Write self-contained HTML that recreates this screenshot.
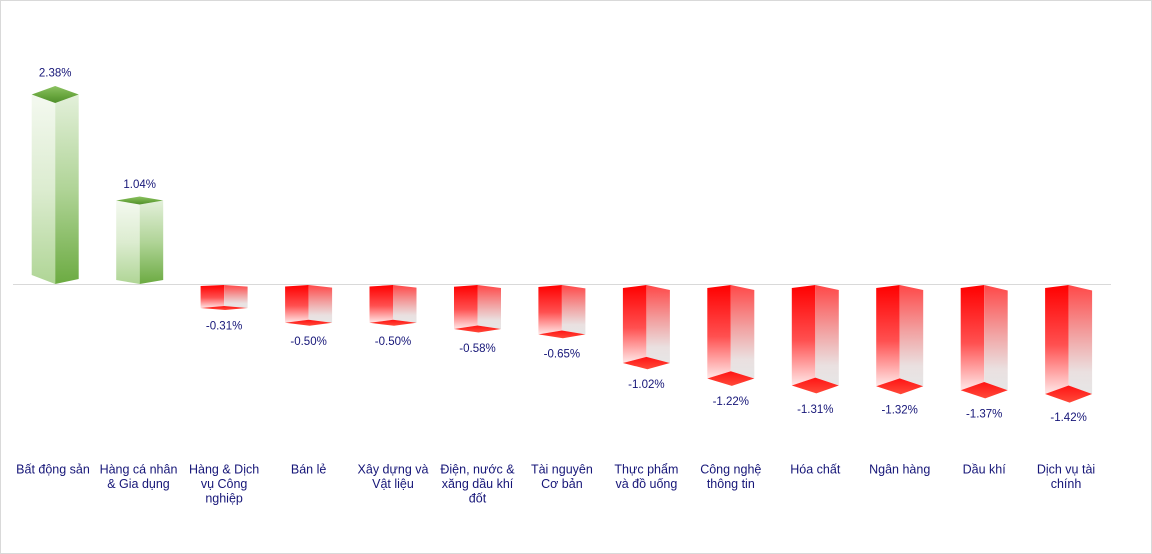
<!DOCTYPE html>
<html>
<head>
<meta charset="utf-8">
<style>
  html,body{margin:0;padding:0;background:#fff;}
  svg{display:block;}
  .pct{font-family:"Liberation Sans",Arial,sans-serif;font-size:11.5px;fill:#161678;text-anchor:middle;}
  .cat{font-family:"Liberation Sans",Arial,sans-serif;font-size:12.5px;fill:#161678;text-anchor:middle;}
</style>
</head>
<body>
<svg width="1152" height="554" viewBox="0 0 1152 554" xmlns="http://www.w3.org/2000/svg">
  <defs>
    <linearGradient id="gL" x1="0" y1="0" x2="0" y2="1">
      <stop offset="0" stop-color="#f4f9f0"/>
      <stop offset="0.5" stop-color="#dcecd0"/>
      <stop offset="1" stop-color="#afd595"/>
    </linearGradient>
    <linearGradient id="gR" x1="0" y1="0" x2="0" y2="1">
      <stop offset="0" stop-color="#e3f0da"/>
      <stop offset="0.5" stop-color="#b0d497"/>
      <stop offset="1" stop-color="#6cab42"/>
    </linearGradient>
    <linearGradient id="gT" x1="0" y1="0" x2="0" y2="1">
      <stop offset="0" stop-color="#8cc262"/>
      <stop offset="0.55" stop-color="#6aa73f"/>
      <stop offset="1" stop-color="#4f8f2a"/>
    </linearGradient>
    <linearGradient id="rL" x1="0" y1="0" x2="0" y2="1">
      <stop offset="0" stop-color="#ff0000"/>
      <stop offset="0.55" stop-color="#ff5050"/>
      <stop offset="1" stop-color="#ffe8e8"/>
    </linearGradient>
    <linearGradient id="rR" x1="0" y1="0" x2="0" y2="1">
      <stop offset="0" stop-color="#ff4848"/>
      <stop offset="0.45" stop-color="#f2a0a0"/>
      <stop offset="0.8" stop-color="#eae0e0"/>
      <stop offset="1" stop-color="#e6e6e6"/>
    </linearGradient>
    <linearGradient id="rD" x1="0" y1="0" x2="0" y2="1">
      <stop offset="0" stop-color="#ff1414"/>
      <stop offset="1" stop-color="#ff4a3a"/>
    </linearGradient>
  </defs>

  <rect x="0.5" y="0.5" width="1151" height="553" fill="#fff" stroke="#d9d9d9" stroke-width="1"/>

  <line x1="13" y1="284.5" x2="1111" y2="284.5" stroke="#d9d9d9" stroke-width="1"/>

  <!-- Bar 0: 2.38% -->
  <polygon points="31.7,94.5 55.2,103 55.2,284 31.7,275" fill="url(#gL)"/>
  <polygon points="55.2,103 78.7,94.5 78.7,279 55.2,284" fill="url(#gR)"/>
  <polygon points="55.2,86 78.7,94.5 55.2,103 31.7,94.5" fill="url(#gT)"/>
  <text class="pct" x="55.2" y="76.3">2.38%</text>

  <!-- Bar 1: 1.04% -->
  <polygon points="116.2,200.5 139.7,204.5 139.7,284 116.2,280" fill="url(#gL)"/>
  <polygon points="139.7,204.5 163.2,200.5 163.2,280 139.7,284" fill="url(#gR)"/>
  <polygon points="139.7,196.5 163.2,200.5 139.7,204.5 116.2,200.5" fill="url(#gT)"/>
  <text class="pct" x="139.7" y="188">1.04%</text>

  <!-- Bar 2: -0.31% -->
  <polygon points="200.6,286 224.1,285 224.1,306 200.6,308" fill="url(#rL)"/>
  <polygon points="224.1,285 247.6,286.6 247.6,308 224.1,306" fill="url(#rR)"/>
  <polygon points="224.1,306 247.6,308 225.1,310 200.6,308" fill="url(#rD)"/>
  <text class="pct" x="224.1" y="329.5">-0.31%</text>

  <!-- Bar 3: -0.50% -->
  <polygon points="285.1,286.5 308.6,285 308.6,319.8 285.1,322.8" fill="url(#rL)"/>
  <polygon points="308.6,285 332.1,287.6 332.1,322.8 308.6,319.8" fill="url(#rR)"/>
  <polygon points="308.6,319.8 332.1,322.8 309.6,325.8 285.1,322.8" fill="url(#rD)"/>
  <text class="pct" x="308.6" y="345">-0.50%</text>

  <!-- Bar 4: -0.50% -->
  <polygon points="369.5,286.5 393,285 393,319.8 369.5,322.8" fill="url(#rL)"/>
  <polygon points="393,285 416.5,287.6 416.5,322.8 393,319.8" fill="url(#rR)"/>
  <polygon points="393,319.8 416.5,322.8 394,325.8 369.5,322.8" fill="url(#rD)"/>
  <text class="pct" x="393" y="345">-0.50%</text>

  <!-- Bar 5: -0.58% -->
  <polygon points="454,286.8 477.5,285 477.5,325.5 454,329" fill="url(#rL)"/>
  <polygon points="477.5,285 501,288 501,329 477.5,325.5" fill="url(#rR)"/>
  <polygon points="477.5,325.5 501,329 478.5,332.5 454,329" fill="url(#rD)"/>
  <text class="pct" x="477.5" y="352">-0.58%</text>

  <!-- Bar 6: -0.65% -->
  <polygon points="538.4,287 561.9,285 561.9,330.5 538.4,334.4" fill="url(#rL)"/>
  <polygon points="561.9,285 585.4,288.4 585.4,334.4 561.9,330.5" fill="url(#rR)"/>
  <polygon points="561.9,330.5 585.4,334.4 562.9,338.3 538.4,334.4" fill="url(#rD)"/>
  <text class="pct" x="561.9" y="357.5">-0.65%</text>

  <!-- Bar 7: -1.02% -->
  <polygon points="622.9,288 646.4,285 646.4,356.9 622.9,363" fill="url(#rL)"/>
  <polygon points="646.4,285 669.9,290 669.9,363 646.4,356.9" fill="url(#rR)"/>
  <polygon points="646.4,356.9 669.9,363 647.4,369.2 622.9,363" fill="url(#rD)"/>
  <text class="pct" x="646.4" y="388">-1.02%</text>

  <!-- Bar 8: -1.22% -->
  <polygon points="707.3,288 730.8,285 730.8,371.2 707.3,378.5" fill="url(#rL)"/>
  <polygon points="730.8,285 754.3,290 754.3,378.5 730.8,371.2" fill="url(#rR)"/>
  <polygon points="730.8,371.2 754.3,378.5 731.8,385.9 707.3,378.5" fill="url(#rD)"/>
  <text class="pct" x="730.8" y="405">-1.22%</text>

  <!-- Bar 9: -1.31% -->
  <polygon points="791.8,288 815.3,285 815.3,377.6 791.8,385.5" fill="url(#rL)"/>
  <polygon points="815.3,285 838.8,290 838.8,385.5 815.3,377.6" fill="url(#rR)"/>
  <polygon points="815.3,377.6 838.8,385.5 816.3,393.4 791.8,385.5" fill="url(#rD)"/>
  <text class="pct" x="815.3" y="413">-1.31%</text>

  <!-- Bar 10: -1.32% -->
  <polygon points="876.2,288 899.7,285 899.7,378.4 876.2,386.3" fill="url(#rL)"/>
  <polygon points="899.7,285 923.2,290 923.2,386.3 899.7,378.4" fill="url(#rR)"/>
  <polygon points="899.7,378.4 923.2,386.3 900.7,394.2 876.2,386.3" fill="url(#rD)"/>
  <text class="pct" x="899.7" y="413.5">-1.32%</text>

  <!-- Bar 11: -1.37% -->
  <polygon points="960.7,288 984.2,285 984.2,382 960.7,390.2" fill="url(#rL)"/>
  <polygon points="984.2,285 1007.7,290.5 1007.7,390.2 984.2,382" fill="url(#rR)"/>
  <polygon points="984.2,382 1007.7,390.2 985.2,398.4 960.7,390.2" fill="url(#rD)"/>
  <text class="pct" x="984.2" y="417.5">-1.37%</text>

  <!-- Bar 12: -1.42% -->
  <polygon points="1045.1,288 1068.6,285 1068.6,385.5 1045.1,394" fill="url(#rL)"/>
  <polygon points="1068.6,285 1092.1,290.5 1092.1,394 1068.6,385.5" fill="url(#rR)"/>
  <polygon points="1068.6,385.5 1092.1,394 1069.6,402.6 1045.1,394" fill="url(#rD)"/>
  <text class="pct" x="1068.6" y="421">-1.42%</text>

  <!-- Category labels -->
  <text class="cat" x="53" y="473.5">Bất động sản</text>
  <text class="cat" x="138.5" y="473.5">Hàng cá nhân<tspan x="138.5" dy="14.5">&amp; Gia dụng</tspan></text>
  <text class="cat" x="224.1" y="473.5">Hàng &amp; Dịch<tspan x="224.1" dy="14.5">vụ Công</tspan><tspan x="224.1" dy="14.5">nghiệp</tspan></text>
  <text class="cat" x="308.6" y="473.5">Bán lẻ</text>
  <text class="cat" x="393" y="473.5">Xây dựng và<tspan x="393" dy="14.5">Vật liệu</tspan></text>
  <text class="cat" x="477.5" y="473.5">Điện, nước &amp;<tspan x="477.5" dy="14.5">xăng dầu khí</tspan><tspan x="477.5" dy="14.5">đốt</tspan></text>
  <text class="cat" x="561.9" y="473.5">Tài nguyên<tspan x="561.9" dy="14.5">Cơ bản</tspan></text>
  <text class="cat" x="646.4" y="473.5">Thực phẩm<tspan x="646.4" dy="14.5">và đồ uống</tspan></text>
  <text class="cat" x="730.8" y="473.5">Công nghệ<tspan x="730.8" dy="14.5">thông tin</tspan></text>
  <text class="cat" x="815.3" y="473.5">Hóa chất</text>
  <text class="cat" x="899.7" y="473.5">Ngân hàng</text>
  <text class="cat" x="984.2" y="473.5">Dầu khí</text>
  <text class="cat" x="1066" y="473.5">Dịch vụ tài<tspan x="1066" dy="14.5">chính</tspan></text>
</svg>
</body>
</html>
